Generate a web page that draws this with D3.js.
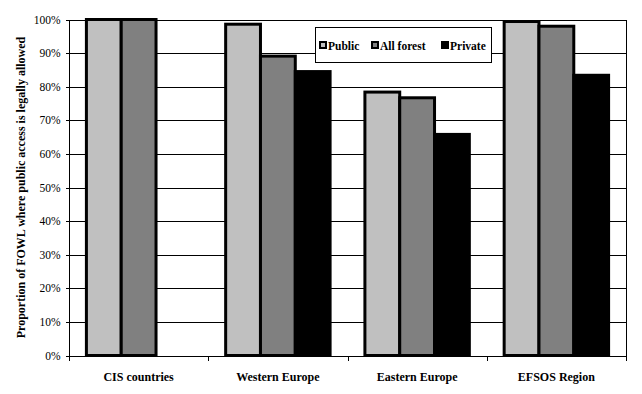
<!DOCTYPE html>
<html>
<head>
    <meta charset="utf-8">
    <style>
        body {
            margin: 0;
            background: #fff;
        }

        svg {
            display: block;
        }

        svg text {
            font-family: 'Liberation Serif', 'Times New Roman', serif;
            fill: #000;
        }

        .grid line {
            stroke: #000;
            stroke-width: 1px;
            shape-rendering: crispEdges;
        }

        .y.axis .domain {
            display: none;
        }

        .y.axis text {
            font-size: 11.5px;
        }

        .x.axis text {
            font-size: 12px;
            font-weight: bold;
        }

        .axis .tick line {
            stroke: #000;
            shape-rendering: crispEdges;
        }

        .legend text {
            font-size: 11.5px;
            font-weight: bold;
        }
    </style>
</head>

<body>
    <svg class="chart" width="642" height="394"></svg>
</body>

<script src="https://d3js.org/d3.v7.min.js"></script>

<script>
    // data (percent)
    let regions = ["CIS countries", "Western Europe", "Eastern Europe", "EFSOS Region"];
    let series = ["Public", "All forest", "Private"];
    let publicVals = [100, 98.6, 78.4, 99.4];
    let allForestVals = [100, 89.1, 76.7, 98.0];
    let privateVals = [null, 84.5, 65.8, 83.4];
    let yTicks = [0, 10, 20, 30, 40, 50, 60, 70, 80, 90, 100];

    let colors = ["#c0c0c0", "#808080", "#000000"];

    let width = 642;
    let height = 394;
    let margin = {top: 19.5, right: 16, bottom: 38.5, left: 69};

    let rows = regions.map(function(r, i) {
        return {region: r, values: [publicVals[i], allForestVals[i], privateVals[i]]}
    })

    let svg = d3.select(".chart");

    let x0 = d3.scaleBand()
        .domain(regions)
        .range([margin.left, width - margin.right])
        .paddingInner(0.25)
        .paddingOuter(0.125)

    let x1 = d3.scaleBand()
        .domain(series)
        .range([0, x0.bandwidth()])

    let y = d3.scaleLinear()
        .domain([0, 100])
        .range([height - margin.bottom, margin.top])

    // gridlines
    svg.append("g")
        .attr("class", "grid")
        .selectAll("line")
        .data(yTicks)
        .join("line")
        .attr("x1", margin.left)
        .attr("x2", width - margin.right)
        .attr("y1", d => Math.round(y(d)) + 0.5)
        .attr("y2", d => Math.round(y(d)) + 0.5)

    // right border of plot area
    svg.append("line")
        .attr("x1", width - margin.right + 0.5)
        .attr("x2", width - margin.right + 0.5)
        .attr("y1", y(100))
        .attr("y2", y(0))
        .attr("stroke", "#000")
        .attr("shape-rendering", "crispEdges")

    // bars
    let groups = svg.append("g")
        .selectAll("g")
        .data(rows)
        .join("g")
        .attr("transform", d => `translate(${x0(d.region)},0)`)

    groups.selectAll("rect")
        .data(d => d.values.map((v, i) => ({key: series[i], value: v, idx: i})).filter(e => e.value != null))
        .join("rect")
        .attr("x", d => x1(d.key))
        .attr("y", d => y(d.value))
        .attr("width", x1.bandwidth())
        .attr("height", d => y(0) - y(d.value))
        .attr("fill", d => colors[d.idx])
        .attr("stroke", "#000")
        .attr("stroke-width", 3)

    // y axis
    let yAxisSettings = d3.axisLeft(y)
        .tickValues(yTicks)
        .tickFormat(d => d + "%")
        .tickSize(4)
        .tickPadding(5)

    svg.append("g")
        .attr("class", "y axis")
        .attr("transform", `translate(${margin.left + 0.5},0)`)
        .call(yAxisSettings)
        .attr("font-family", null)
        .attr("font-size", null)

    svg.append("line")
        .attr("x1", margin.left + 0.5)
        .attr("x2", margin.left + 0.5)
        .attr("y1", y(100))
        .attr("y2", y(0))
        .attr("stroke", "#000")
        .attr("shape-rendering", "crispEdges")

    // x axis: ticks at category boundaries
    let bounds = d3.range(regions.length + 1).map(i => margin.left + i * x0.step())

    svg.append("line")
        .attr("x1", margin.left)
        .attr("x2", width - margin.right)
        .attr("y1", Math.round(y(0)) + 0.5)
        .attr("y2", Math.round(y(0)) + 0.5)
        .attr("stroke", "#000")
        .attr("shape-rendering", "crispEdges")

    svg.append("g")
        .selectAll("line")
        .data(bounds)
        .join("line")
        .attr("x1", d => Math.round(d) + 0.5)
        .attr("x2", d => Math.round(d) + 0.5)
        .attr("y1", y(0))
        .attr("y2", y(0) + 5)
        .attr("stroke", "#000")
        .attr("shape-rendering", "crispEdges")

    svg.append("g")
        .attr("class", "x axis")
        .selectAll("text")
        .data(regions)
        .join("text")
        .attr("x", d => x0(d) + x0.bandwidth() / 2)
        .attr("y", 381)
        .attr("text-anchor", "middle")
        .text(d => d)

    // y title
    svg.append("text")
        .attr("transform", `translate(25, ${(y(0) + y(100)) / 2}) rotate(-90)`)
        .attr("text-anchor", "middle")
        .attr("font-size", "12px")
        .attr("font-weight", "bold")
        .text("Proportion of FOWL where public access is legally allowed")

    // legend
    let legend = svg.append("g")
        .attr("class", "legend")

    legend.append("rect")
        .attr("x", 315.5)
        .attr("y", 27.5)
        .attr("width", 176)
        .attr("height", 35)
        .attr("fill", "#fff")
        .attr("stroke", "#000")

    let legendX = [319, 371, 441];

    let items = legend.selectAll(".item")
        .data(series)
        .join("g")
        .attr("class", "item")
        .attr("transform", (d, i) => `translate(${legendX[i]}, 41)`)

    items.append("rect")
        .attr("x", 1)
        .attr("y", 1)
        .attr("width", 6)
        .attr("height", 6)
        .attr("fill", (d, i) => colors[i])
        .attr("stroke", "#000")
        .attr("stroke-width", 2)

    items.append("text")
        .attr("x", 9)
        .attr("y", 8.5)
        .text(d => d)
</script>
</html>
